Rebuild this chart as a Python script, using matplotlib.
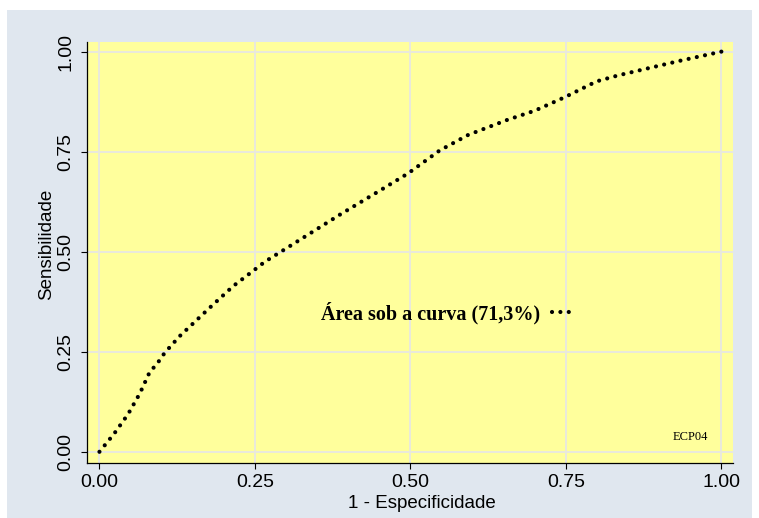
import matplotlib
matplotlib.use('Agg')
from matplotlib import pyplot as plt
from matplotlib.lines import Line2D
from matplotlib.patches import Rectangle

plt.rcParams['font.family'] = ['Liberation Sans', 'DejaVu Sans']

# ROC curve points (1 - specificity, sensitivity)
fpr = [0.0, 0.024, 0.046, 0.065, 0.081, 0.092, 0.105, 0.129, 0.178, 0.215,
       0.247, 0.266, 0.300, 0.387, 0.450, 0.4965, 0.547, 0.593, 0.655, 0.700,
       0.748, 0.799, 0.835, 0.869, 0.933, 1.0]
sens = [0.0, 0.046, 0.094, 0.146, 0.200, 0.2185, 0.2475, 0.289, 0.361, 0.414,
        0.452, 0.475, 0.508, 0.593, 0.652, 0.696, 0.753, 0.792, 0.829, 0.8525,
        0.886, 0.9255, 0.941, 0.9535, 0.977, 1.0]

ticks = [0.0, 0.25, 0.5, 0.75, 1.0]
tick_labels = ['0.00', '0.25', '0.50', '0.75', '1.00']
legend_label = 'Área sob a curva (71,3%)'
note = 'ECP04'

outer_bg = '#e0e7ef'
plot_bg = '#ffff9c'
grid_col = '#e9e9dc'
dots = (0, (0.01, 2.0))

fig = plt.figure(figsize=(7.59, 5.18), dpi=100, facecolor='white')
# light blue-gray panel behind the plot, leaving a thin white border
fig.add_artist(Rectangle((7 / 759, 0), 745 / 759, 1 - 10 / 518,
                         transform=fig.transFigure, facecolor=outer_bg,
                         edgecolor='none', zorder=-5))

ax = fig.add_axes([87 / 759, 55 / 518, 646 / 759, 421 / 518])
ax.set_facecolor(plot_bg)
ax.set_xlim(-0.02, 1.0185)
ax.set_ylim(-0.028, 1.024)

ax.plot(fpr, sens, color='black', lw=3.0, linestyle=dots,
        dash_capstyle='round', zorder=3)

ax.set_xticks(ticks)
ax.set_xticklabels(tick_labels)
ax.set_yticks(ticks)
ax.set_yticklabels(tick_labels, rotation=90, va='center')
ax.tick_params(direction='out', length=4, width=0.8, labelsize=14, pad=4)
ax.tick_params(axis='y', pad=5)
ax.grid(True, color=grid_col, lw=1.4, zorder=1)
ax.set_axisbelow(True)

for side in ['top', 'right']:
    ax.spines[side].set_visible(False)
for side in ['left', 'bottom']:
    ax.spines[side].set_linewidth(0.9)

ax.set_xlabel('1 - Especificidade', fontsize=13.5, labelpad=3, x=0.518)
ax.set_ylabel('Sensibilidade', fontsize=13.5, labelpad=2, y=0.52)

handle = Line2D([], [], color='black', lw=3.0, linestyle=dots,
                dash_capstyle='round')
leg = ax.legend([handle], [legend_label], loc='center',
                bbox_to_anchor=(0.556, 0.356), frameon=False,
                markerfirst=False, handlelength=1.0, handletextpad=0.6,
                prop={'family': 'Liberation Serif', 'weight': 'bold', 'size': 14.5})

ax.text(0.961, 0.062, note, transform=ax.transAxes, ha='right', va='center',
        family='Liberation Serif', fontsize=9)

fig.savefig('out.png', dpi=100, facecolor=fig.get_facecolor())
